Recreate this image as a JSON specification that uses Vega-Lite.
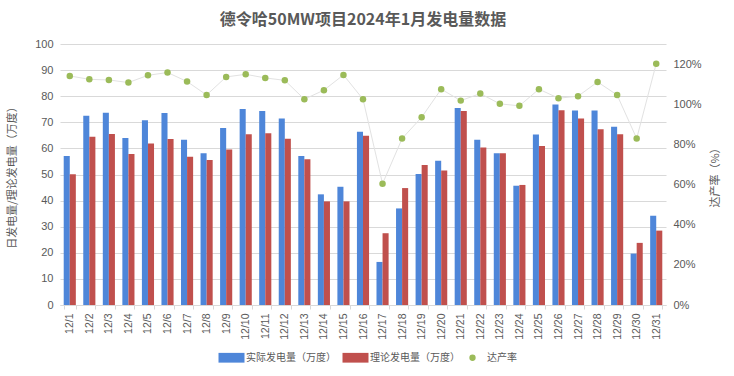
{
  "$schema": "https://vega.github.io/schema/vega-lite/v6.json",
  "width": 606,
  "height": 261,
  "autosize": {"type": "none"},
  "padding": {"left": 60, "top": 44, "right": 68, "bottom": 71},
  "background": "white",
  "title": {
    "text": "德令哈50MW项目2024年1月发电量数据",
    "fontSize": 16,
    "fontWeight": "bold",
    "font": "Noto Sans CJK SC",
    "color": "#595959",
    "anchor": "middle",
    "offset": 10
  },
  "config": {
    "view": {"stroke": null},
    "axis": {
      "labelFont": "Liberation Sans",
      "labelFontSize": 11,
      "labelColor": "#595959",
      "titleFont": "Noto Sans CJK SC",
      "titleFontSize": 11,
      "titleFontWeight": "normal",
      "titleColor": "#595959"
    }
  },
  "datasets": {
    "bars": [
      {"date": "12/1", "series": "实际发电量（万度）", "value": 57.1},
      {"date": "12/1", "series": "理论发电量（万度）", "value": 50.1},
      {"date": "12/2", "series": "实际发电量（万度）", "value": 72.5},
      {"date": "12/2", "series": "理论发电量（万度）", "value": 64.5},
      {"date": "12/3", "series": "实际发电量（万度）", "value": 73.7},
      {"date": "12/3", "series": "理论发电量（万度）", "value": 65.5},
      {"date": "12/4", "series": "实际发电量（万度）", "value": 64.0},
      {"date": "12/4", "series": "理论发电量（万度）", "value": 57.9},
      {"date": "12/5", "series": "实际发电量（万度）", "value": 70.8},
      {"date": "12/5", "series": "理论发电量（万度）", "value": 61.9},
      {"date": "12/6", "series": "实际发电量（万度）", "value": 73.6},
      {"date": "12/6", "series": "理论发电量（万度）", "value": 63.6},
      {"date": "12/7", "series": "实际发电量（万度）", "value": 63.3},
      {"date": "12/7", "series": "理论发电量（万度）", "value": 56.8},
      {"date": "12/8", "series": "实际发电量（万度）", "value": 58.1},
      {"date": "12/8", "series": "理论发电量（万度）", "value": 55.6},
      {"date": "12/9", "series": "实际发电量（万度）", "value": 67.8},
      {"date": "12/9", "series": "理论发电量（万度）", "value": 59.6},
      {"date": "12/10", "series": "实际发电量（万度）", "value": 75.1},
      {"date": "12/10", "series": "理论发电量（万度）", "value": 65.4},
      {"date": "12/11", "series": "实际发电量（万度）", "value": 74.3},
      {"date": "12/11", "series": "理论发电量（万度）", "value": 65.8},
      {"date": "12/12", "series": "实际发电量（万度）", "value": 71.5},
      {"date": "12/12", "series": "理论发电量（万度）", "value": 63.7},
      {"date": "12/13", "series": "实际发电量（万度）", "value": 57.1},
      {"date": "12/13", "series": "理论发电量（万度）", "value": 55.8},
      {"date": "12/14", "series": "实际发电量（万度）", "value": 42.4},
      {"date": "12/14", "series": "理论发电量（万度）", "value": 39.7},
      {"date": "12/15", "series": "实际发电量（万度）", "value": 45.3},
      {"date": "12/15", "series": "理论发电量（万度）", "value": 39.7},
      {"date": "12/16", "series": "实际发电量（万度）", "value": 66.4},
      {"date": "12/16", "series": "理论发电量（万度）", "value": 64.8},
      {"date": "12/17", "series": "实际发电量（万度）", "value": 16.5},
      {"date": "12/17", "series": "理论发电量（万度）", "value": 27.5},
      {"date": "12/18", "series": "实际发电量（万度）", "value": 37.0},
      {"date": "12/18", "series": "理论发电量（万度）", "value": 44.8},
      {"date": "12/19", "series": "实际发电量（万度）", "value": 50.2},
      {"date": "12/19", "series": "理论发电量（万度）", "value": 53.6},
      {"date": "12/20", "series": "实际发电量（万度）", "value": 55.3},
      {"date": "12/20", "series": "理论发电量（万度）", "value": 51.5},
      {"date": "12/21", "series": "实际发电量（万度）", "value": 75.5},
      {"date": "12/21", "series": "理论发电量（万度）", "value": 74.3},
      {"date": "12/22", "series": "实际发电量（万度）", "value": 63.3},
      {"date": "12/22", "series": "理论发电量（万度）", "value": 60.3},
      {"date": "12/23", "series": "实际发电量（万度）", "value": 58.1},
      {"date": "12/23", "series": "理论发电量（万度）", "value": 58.1},
      {"date": "12/24", "series": "实际发电量（万度）", "value": 45.7},
      {"date": "12/24", "series": "理论发电量（万度）", "value": 46.0},
      {"date": "12/25", "series": "实际发电量（万度）", "value": 65.3},
      {"date": "12/25", "series": "理论发电量（万度）", "value": 60.9},
      {"date": "12/26", "series": "实际发电量（万度）", "value": 76.8},
      {"date": "12/26", "series": "理论发电量（万度）", "value": 74.6},
      {"date": "12/27", "series": "实际发电量（万度）", "value": 74.5},
      {"date": "12/27", "series": "理论发电量（万度）", "value": 71.5},
      {"date": "12/28", "series": "实际发电量（万度）", "value": 74.5},
      {"date": "12/28", "series": "理论发电量（万度）", "value": 67.3},
      {"date": "12/29", "series": "实际发电量（万度）", "value": 68.3},
      {"date": "12/29", "series": "理论发电量（万度）", "value": 65.4},
      {"date": "12/30", "series": "实际发电量（万度）", "value": 19.7},
      {"date": "12/30", "series": "理论发电量（万度）", "value": 23.8},
      {"date": "12/31", "series": "实际发电量（万度）", "value": 34.2},
      {"date": "12/31", "series": "理论发电量（万度）", "value": 28.5}
    ],
    "rate": [
      {"date": "12/1", "rate": 1.141},
      {"date": "12/2", "rate": 1.124},
      {"date": "12/3", "rate": 1.121},
      {"date": "12/4", "rate": 1.108},
      {"date": "12/5", "rate": 1.144},
      {"date": "12/6", "rate": 1.158},
      {"date": "12/7", "rate": 1.113},
      {"date": "12/8", "rate": 1.046},
      {"date": "12/9", "rate": 1.136},
      {"date": "12/10", "rate": 1.149},
      {"date": "12/11", "rate": 1.131},
      {"date": "12/12", "rate": 1.119},
      {"date": "12/13", "rate": 1.025},
      {"date": "12/14", "rate": 1.07},
      {"date": "12/15", "rate": 1.146},
      {"date": "12/16", "rate": 1.025},
      {"date": "12/17", "rate": 0.604},
      {"date": "12/18", "rate": 0.829},
      {"date": "12/19", "rate": 0.935},
      {"date": "12/20", "rate": 1.075},
      {"date": "12/21", "rate": 1.018},
      {"date": "12/22", "rate": 1.053},
      {"date": "12/23", "rate": 1.002},
      {"date": "12/24", "rate": 0.992},
      {"date": "12/25", "rate": 1.075},
      {"date": "12/26", "rate": 1.03},
      {"date": "12/27", "rate": 1.04},
      {"date": "12/28", "rate": 1.111},
      {"date": "12/29", "rate": 1.046},
      {"date": "12/30", "rate": 0.829},
      {"date": "12/31", "rate": 1.202}
    ]
  },
  "layer": [
    {
      "data": {"name": "bars"},
      "mark": {"type": "bar"},
      "encoding": {
        "x": {
          "field": "date",
          "type": "ordinal",
          "sort": null,
          "scale": {"paddingInner": 0.38, "paddingOuter": 0.19},
          "axis": {
            "title": null,
            "labelAngle": -90,
            "labelFontSize": 10.5,
            "labelPadding": 4,
            "domainColor": "#d9d9d9",
            "tickColor": "#d9d9d9",
            "tickSize": 4,
            "tickBand": "extent",
            "grid": false
          }
        },
        "xOffset": {
          "field": "series",
          "sort": ["实际发电量（万度）", "理论发电量（万度）"],
          "scale": {"paddingInner": 0, "paddingOuter": 0}
        },
        "y": {
          "field": "value",
          "type": "quantitative",
          "scale": {"domain": [0, 100]},
          "axis": {
            "title": "日发电量/理论发电量（万度）",
            "values": [0, 10, 20, 30, 40, 50, 60, 70, 80, 90, 100],
            "grid": true,
            "gridColor": "#d9d9d9",
            "domain": false,
            "ticks": false,
            "labelPadding": 7,
            "titlePadding": 17
          }
        },
        "color": {
          "field": "series",
          "type": "nominal",
          "scale": {
            "domain": ["实际发电量（万度）", "理论发电量（万度）", "达产率"],
            "range": ["#4e86d9", "#c0504d", "#9bbb59"]
          },
          "legend": {
            "orient": "none",
            "legendX": 165,
            "legendY": 307,
            "direction": "horizontal",
            "title": null,
            "labelFont": "Noto Sans CJK SC",
            "labelFontSize": 10,
            "labelColor": "#595959",
            "symbolType": "M-2,-0.75H2V0.75H-2Z",
            "symbolSize": 169,
            "symbolStrokeWidth": 0,
            "labelOffset": 8,
            "columnPadding": 6,
            "encode": {
              "symbols": {
                "update": {
                  "shape": {"signal": "datum.value === '达产率' ? 'circle' : 'M-2,-0.75H2V0.75H-2Z'"},
                  "size": {"signal": "datum.value === '达产率' ? 40 : 169"}
                }
              }
            }
          }
        }
      }
    },
    {
      "data": {"name": "rate"},
      "encoding": {
        "x": {"field": "date", "type": "ordinal", "sort": null},
        "y": {
          "field": "rate",
          "type": "quantitative",
          "scale": {"domain": [0, 1.3]},
          "axis": {
            "orient": "right",
            "title": "达产率（%）",
            "titleAngle": -90,
            "format": ".0%",
            "values": [0, 0.2, 0.4, 0.6, 0.8, 1.0, 1.2],
            "grid": false,
            "domain": false,
            "ticks": false,
            "labelPadding": 7,
            "titlePadding": 19
          }
        }
      },
      "layer": [
        {"mark": {"type": "line", "color": "#e2e2e2", "strokeWidth": 1}},
        {
          "mark": {"type": "point", "filled": true, "size": 42, "opacity": 1},
          "encoding": {"color": {"datum": "达产率"}}
        }
      ]
    }
  ],
  "resolve": {"scale": {"y": "independent"}}
}
